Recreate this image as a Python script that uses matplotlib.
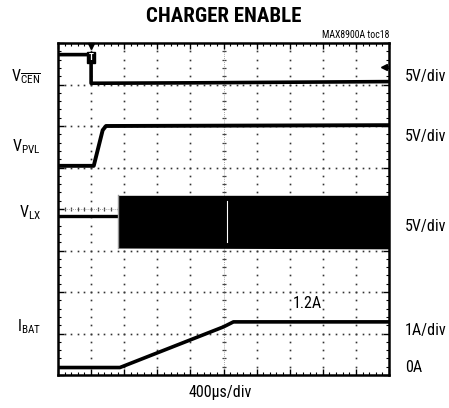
import numpy as np
import matplotlib
matplotlib.use('Agg')
import matplotlib.pyplot as plt
from matplotlib import font_manager

## pick a narrow face if one is around
names = set(f.name for f in font_manager.fontManager.ttflist)
face = 'DejaVu Sans'
for cand in ['Liberation Sans Narrow', 'Roboto Condensed', 'Liberation Sans', 'Roboto']:
	if cand in names:
		face = cand
		break
plt.rcParams['font.family'] = [face, 'DejaVu Sans']
plt.rcParams['mathtext.fontset'] = 'custom'
plt.rcParams['mathtext.rm'] = face
plt.rcParams['mathtext.it'] = face

## traces, read in screen divisions (x: 0..10, y: 0..8)
cen_x = [0, 1.0, 1.0, 4.0, 10]
cen_y = [7.72, 7.72, 7.03, 7.04, 7.07]

pvl_x = [0, 1.08, 1.35, 1.45, 10]
pvl_y = [5.04, 5.04, 5.90, 6.00, 6.02]

lx_pre_x = [0, 1.8]
lx_pre_y = [3.84, 3.84]
lx_band_x = [1.8, 10]
lx_top = [4.33, 4.33]
lx_bot = [3.06, 3.04]
lx_gap_x = 5.1
lx_gap_y = [3.2, 4.2]

bat_x = [0, 1.87, 5.0, 5.3, 10]
bat_y = [0.18, 0.18, 1.16, 1.28, 1.28]

left_labels = [r'V$_{\overline{\mathrm{CEN}}}$', r'V$_{\mathrm{PVL}}$', r'V$_{\mathrm{LX}}$', r'I$_{\mathrm{BAT}}$']
left_y = [77, 147, 213, 327]
right_labels = ['5V/div', '5V/div', '5V/div', '1A/div', '0A']
right_y = [77, 137, 227, 330, 368]

W, H = 449, 408
fig = plt.figure(figsize=(W / 100, H / 100), dpi=100)
ax = fig.add_axes([58 / W, 1 - 375 / H, 331 / W, 332 / H])
ax.set_xlim(0, 10)
ax.set_ylim(0, 8)

## dotted graticule (kept under the traces)
for i in range(1, 10):
	if i == 5:
		continue
	ax.plot([i] * 41, np.arange(41) * 0.2, ls='none', marker='s', ms=1.2, color='#333333', mew=0, zorder=1)
for j in range(1, 8):
	if j == 4:
		continue
	ax.plot(np.arange(51) * 0.2, [j] * 51, ls='none', marker='s', ms=1.2, color='#333333', mew=0, zorder=1)
## centre lines with cross ticks
ax.plot([5] * 41, np.arange(41) * 0.2, ls='none', marker='_', ms=3.5, mew=0.9, color='#444444', zorder=1)
ax.plot([5, 5], [0, 8], color='#888888', lw=0.6, ls=(0, (1, 1.5)), zorder=1)
ax.plot(np.arange(51) * 0.2, [4] * 51, ls='none', marker='|', ms=3.5, mew=0.9, color='#444444', zorder=1)
ax.plot([0, 10], [4, 4], color='#888888', lw=0.6, ls=(0, (1, 1.5)), zorder=1)

## traces
ax.plot(cen_x, cen_y, color='black', lw=2.6, zorder=3)
ax.plot(pvl_x, pvl_y, color='black', lw=2.8, zorder=3)
ax.plot(lx_pre_x, lx_pre_y, color='black', lw=2.4, zorder=3)
ax.fill_between(lx_band_x, lx_bot, lx_top, color='black', lw=0, zorder=3)
ax.plot([lx_band_x[0]] * 2, [lx_bot[0], lx_top[0]], color='#999999', lw=1.0, zorder=4)
ax.plot([lx_gap_x] * 2, lx_gap_y, color='white', lw=0.8, zorder=4)
ax.plot(bat_x, bat_y, color='black', lw=2.6, zorder=3)

## trigger and ground markers
ax.plot([1.0], [7.92], marker='v', ms=5, color='black', clip_on=False, zorder=5)
ax.text(1.0, 7.65, 'T', ha='center', va='center', fontsize=6.5, color='white', fontweight='bold', zorder=5,
	bbox=dict(boxstyle='square,pad=0.15', fc='black', ec='black'))
ax.plot([9.84], [7.43], marker='<', ms=5, color='black', zorder=5)
ax.plot([9.84, 9.97], [7.43, 7.43], color='black', lw=1.2, zorder=5)

## frame and ticks
for s in ax.spines.values():
	s.set_linewidth(1.8)
	s.set_zorder(6)
ax.set_xticks(range(11))
ax.set_yticks(range(9))
ax.set_xticks(np.arange(51) * 0.2, minor=True)
ax.set_yticks(np.arange(41) * 0.2, minor=True)
ax.tick_params(which='both', direction='in', top=True, right=True, labelbottom=False, labelleft=False)
ax.tick_params(which='major', length=4, width=1)
ax.tick_params(which='minor', length=2.5, width=0.8)

## text
fig.text(224 / W, 1 - 16 / H, 'CHARGER ENABLE', ha='center', va='center', fontsize=15, fontweight='bold')
fig.text(389 / W, 1 - 35.5 / H, 'MAX8900A toc18', ha='right', va='center', fontsize=7)
for lab, y in zip(left_labels, left_y):
	fig.text(41 / W, 1 - y / H, lab, ha='right', va='center', fontsize=11.5)
for lab, y in zip(right_labels, right_y):
	fig.text(405 / W, 1 - y / H, lab, ha='left', va='center', fontsize=11.5)
fig.text(307 / W, 1 - 304 / H, '1.2A', ha='center', va='center', fontsize=11.5)
fig.text(220 / W, 1 - 392 / H, '400µs/div', ha='center', va='center', fontsize=11.5)

fig.savefig('out.png', dpi=100)
